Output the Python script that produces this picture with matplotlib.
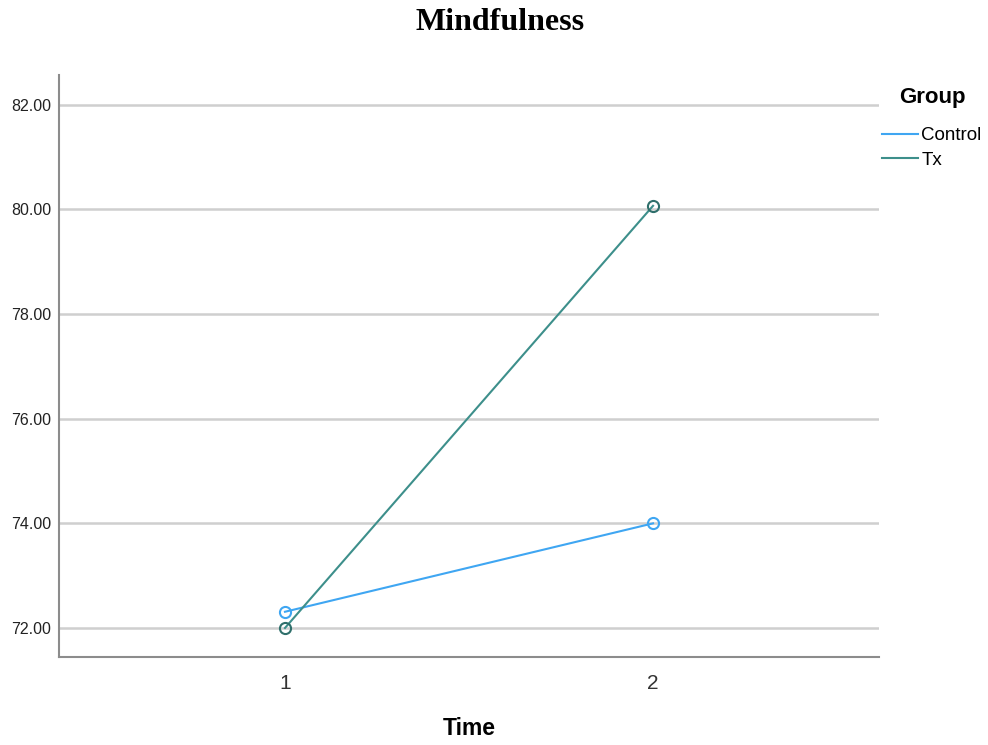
import matplotlib.pyplot as plt
import numpy as np

# data
time_points = [1, 2]
control_means = [72.31, 74.00]
tx_means = [72.00, 80.07]
y_ticks = [72, 74, 76, 78, 80, 82]

control_color = '#3fa6f2'
tx_color = '#3d8f8b'

fig = plt.figure(figsize=(9.88, 7.45), dpi=100)
ax = fig.add_axes([0.0597, 0.1181, 0.83, 0.7812])

ax.plot(time_points, control_means, '-', color=control_color, linewidth=1.5, label='Control',
        marker='o', markersize=8, markerfacecolor='none', markeredgecolor=control_color, markeredgewidth=1.5)
ax.plot(time_points, tx_means, '-', color=tx_color, linewidth=1.5, label='Tx',
        marker='o', markersize=8, markerfacecolor='none', markeredgecolor='#2f6f6b', markeredgewidth=1.5)

ax.set_xlim(0.386, 2.614)
ax.set_ylim(71.445, 82.57)
ax.set_xticks(time_points)
ax.set_xticklabels(['1', '2'], fontsize=15, color='#333333', family='Liberation Sans')
ax.set_yticks(y_ticks)
ax.set_yticklabels(['%.2f' % v for v in y_ticks], fontsize=11.5, color='#222222', family='Liberation Sans')
ax.tick_params(length=0, pad=5.5)
ax.tick_params(axis='x', pad=12.5)

ax.grid(axis='y', color='#cfcfcf', linewidth=1.8)
ax.set_axisbelow(True)
for s in ['top', 'right']:
    ax.spines[s].set_visible(False)
for s in ['left', 'bottom']:
    ax.spines[s].set_color('#8c8c8c')
    ax.spines[s].set_linewidth(1.5)

ax.set_xlabel('Time', fontsize=16.5, fontweight='bold', family='Liberation Sans', labelpad=17)

fig.text(0.506, 1 - 22 / 745, 'Mindfulness', ha='center', va='center', fontsize=23,
         fontweight='bold', family='Liberation Serif')

fig.text(0.9435, 1 - 98 / 745, 'Group', ha='center', va='center', fontsize=16,
         fontweight='bold', family='Liberation Sans')
leg = fig.legend(loc='upper left', bbox_to_anchor=(0.8927, 0.8296), frameon=False,
                 prop={'family': 'Liberation Sans', 'size': 13.5},
                 handlelength=1.9, handletextpad=0.2, labelspacing=0.4, borderpad=0,
                 borderaxespad=0)
for h in leg.legend_handles:
    h.set_marker('')

fig.savefig('out.png', dpi=100)
